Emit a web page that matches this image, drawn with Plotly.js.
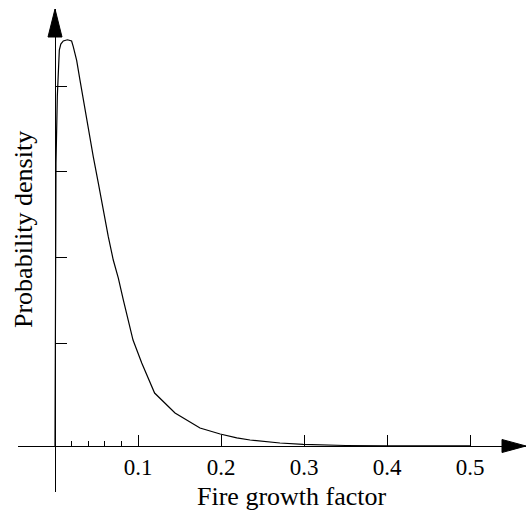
<!DOCTYPE html>
<html>
<head>
<meta charset="utf-8">
<script src="https://cdn.plot.ly/plotly-3.0.1.min.js"></script>
<style>
  html, body { margin: 0; padding: 0; background: #ffffff; }
  #chart { width: 526px; height: 513px; }
</style>
</head>
<body>
<div id="chart"></div>
<script>
// Probability density of the fire growth factor
const growthFactor = [
  0, 0.0005, 0.0012, 0.0028, 0.004, 0.0052, 0.007, 0.010, 0.015, 0.020,
  0.022, 0.0261, 0.0301, 0.0341, 0.0401, 0.0461, 0.0522, 0.0582, 0.0642, 0.0702,
  0.0763, 0.0823, 0.094, 0.1045, 0.1145, 0.120, 0.1446, 0.1747, 0.199, 0.219,
  0.235, 0.271, 0.299, 0.35, 0.40, 0.45, 0.50
];
const density = [
  0, 8.0, 16.5, 20.4, 22.5, 23.1, 23.45, 23.63, 23.7, 23.63,
  23.3, 22.5, 21.35, 20.19, 18.44, 16.88, 15.34, 13.67, 12.21, 10.85,
  9.80, 8.52, 6.18, 4.84, 3.68, 3.09, 1.93, 1.05, 0.70, 0.47,
  0.35, 0.175, 0.10, 0.03, 0.012, 0.005, 0.002
];

const xTickVals = [0.1, 0.2, 0.3, 0.4, 0.5];
const xTickText = ['0.1', '0.2', '0.3', '0.4', '0.5'];
const xMinorTickVals = [0.02, 0.04, 0.06, 0.08];
const yTickVals = [6, 11, 16, 21];

const xTitle = 'Fire growth factor';
const yTitle = 'Probability density';

// Frame geometry (pixels)
const W = 526, H = 513;
const M = { l: 18, r: 0, t: 9, b: 21 };
const plotW = W - M.l - M.r, plotH = H - M.t - M.b;
const originPx = { x: 55, y: 446 };   // where the two axes cross
const pxPerX = 830;                   // pixels per unit of growth factor
const pxPerY = 17.14;                 // pixels per unit of density

const xRange = [(M.l - originPx.x) / pxPerX, (W - M.r - originPx.x) / pxPerX];
const yRange = [(originPx.y - (H - M.b)) / pxPerY, (originPx.y - M.t) / pxPerY];
const xAxisPos = (H - M.b - originPx.y) / plotH;   // paper y of the x axis
const yAxisPos = (originPx.x - M.l) / plotW;       // paper x of the y axis

// pixel -> paper helpers for the axis captions
const paperX = px => (px - M.l) / plotW;
const paperY = py => (H - M.b - py) / plotH;

// Arrowheads (paper coordinates)
const ax = { len: 24 / plotW, half: 6.5 / plotH };
const ay = { len: 28 / plotH, half: 7 / plotW };
const xArrow = `M ${1 - ax.len} ${xAxisPos - ax.half} L 1 ${xAxisPos} L ${1 - ax.len} ${xAxisPos + ax.half} Z`;
const yArrow = `M ${yAxisPos - ay.half} ${1 - ay.len} L ${yAxisPos} 1 L ${yAxisPos + ay.half} ${1 - ay.len} Z`;

const serif = "'Liberation Serif', 'Times New Roman', Times, serif";

const trace = {
  x: growthFactor,
  y: density,
  type: 'scatter',
  mode: 'lines',
  line: { color: '#000000', width: 1.2 },
  hoverinfo: 'skip',
  cliponaxis: false
};

const layout = {
  width: W,
  height: H,
  margin: M,
  paper_bgcolor: '#ffffff',
  plot_bgcolor: '#ffffff',
  showlegend: false,
  font: { family: serif, color: '#000000' },
  xaxis: {
    range: xRange,
    anchor: 'free',
    position: xAxisPos,
    showline: true,
    linecolor: '#000000',
    linewidth: 1,
    showgrid: false,
    zeroline: false,
    tickmode: 'array',
    tickvals: xTickVals,
    ticktext: xTickText,
    ticks: 'inside',
    ticklen: 11,
    tickwidth: 1,
    tickcolor: '#000000',
    tickfont: { family: serif, size: 23, color: '#000000' },
    minor: {
      tickmode: 'array',
      tickvals: xMinorTickVals,
      ticks: 'inside',
      ticklen: 5,
      tickwidth: 1,
      tickcolor: '#000000',
      showgrid: false
    },
    automargin: false,
    fixedrange: true
  },
  yaxis: {
    range: yRange,
    anchor: 'free',
    position: yAxisPos,
    showline: true,
    linecolor: '#000000',
    linewidth: 1,
    showgrid: false,
    zeroline: false,
    tickmode: 'array',
    tickvals: yTickVals,
    showticklabels: false,
    ticks: 'inside',
    ticklen: 11,
    tickwidth: 1,
    tickcolor: '#000000',
    automargin: false,
    fixedrange: true
  },
  annotations: [
    {
      text: xTitle, xref: 'paper', yref: 'paper',
      x: paperX(291.5), y: paperY(496), xanchor: 'center', yanchor: 'middle',
      showarrow: false, font: { family: serif, size: 26, color: '#000000' }
    },
    {
      text: yTitle, xref: 'paper', yref: 'paper', textangle: -90,
      x: paperX(23), y: paperY(230), xanchor: 'center', yanchor: 'middle',
      showarrow: false, font: { family: serif, size: 26, color: '#000000' }
    }
  ],
  shapes: [
    { type: 'path', xref: 'paper', yref: 'paper', path: xArrow, fillcolor: '#000000', line: { color: '#000000', width: 1 }, layer: 'above' },
    { type: 'path', xref: 'paper', yref: 'paper', path: yArrow, fillcolor: '#000000', line: { color: '#000000', width: 1 }, layer: 'above' }
  ]
};

Plotly.newPlot('chart', [trace], layout, { staticPlot: true, displayModeBar: false });
</script>
</body>
</html>
